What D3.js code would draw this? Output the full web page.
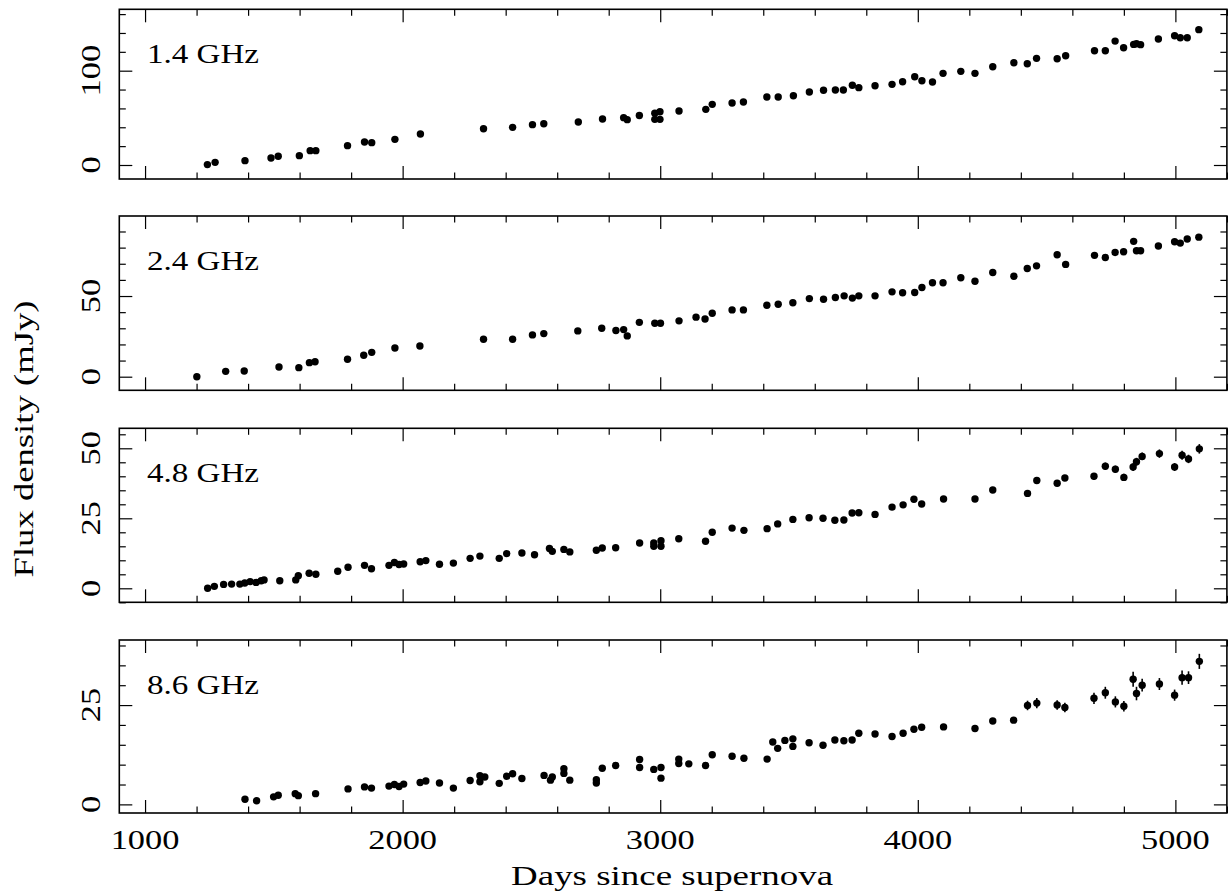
<!DOCTYPE html>
<html><head><meta charset="utf-8">
<script src="https://cdn.jsdelivr.net/npm/d3@7"></script>
<style>
body{margin:0;background:#fff}
svg{display:block}
text{font-family:"Liberation Serif","Times New Roman",serif;fill:#000}
</style>
</head><body>
<svg id="c" width="1230" height="893"></svg>
<script>
// ---------- data ----------
const xMajorTicks = [1000, 2000, 3000, 4000, 5000];
const panelLabels = ["1.4 GHz", "2.4 GHz", "4.8 GHz", "8.6 GHz"];
const xTitle = "Days since supernova";
const yTitle = "Flux density (mJy)";

const days14 = [1242,1272,1388,1489,1517,1599,1641,1663,1786,1852,1880,1970,2069,2314,2427,2504,2548,2682,2776,2858,2872,2919,2979,2979,2999,2999,3073,3177,3202,3279,3323,3414,3458,3517,3579,3634,3680,3711,3746,3771,3834,3900,3941,3988,4016,4057,4098,4167,4222,4291,4373,4425,4461,4541,4574,4686,4728,4766,4799,4838,4849,4865,4934,4997,5019,5046,5091];
const flux14 = [0.4,2.8,4.6,7.4,9.2,9.9,15.2,15.2,20.5,24.4,23.7,27.2,32.9,38.5,39.9,42.8,43.8,45.6,48.8,50.2,48.1,52.5,54.8,48.4,56.5,48.4,57.2,59.0,64.3,65.7,66.8,72.1,72.1,73.5,77.4,79.2,79.5,79.5,84.5,82.0,84.1,85.5,88.3,93.6,89.4,88.0,97.2,99.3,97.2,104.2,108.5,107.4,113.1,112.7,115.9,121.2,121.2,131.4,124.4,127.9,128.6,127.6,133.6,137.1,135.0,135.0,143.5];

const days24 = [1201,1313,1385,1520,1597,1638,1660,1786,1849,1880,1970,2067,2314,2427,2504,2548,2680,2773,2828,2858,2872,2919,2979,3001,3073,3139,3174,3202,3279,3323,3414,3458,3515,3579,3634,3680,3714,3746,3771,3834,3900,3941,3988,4016,4057,4098,4167,4222,4291,4373,4425,4461,4541,4574,4686,4728,4766,4799,4838,4849,4865,4934,4997,5019,5046,5091];
const flux24 = [0,3.3,3.5,6.0,5.6,8.7,9.3,10.8,13.3,15.1,17.8,19.0,23.2,23.2,25.9,26.7,28.4,30.0,28.6,29.2,25.3,33.7,33.1,33.1,34.6,36.9,35.8,39.3,41.4,41.4,44.3,44.9,45.8,48.4,48.0,49.1,50.1,48.7,50.1,50.1,52.6,52.0,52.2,55.3,58.2,58.2,61.3,59.2,64.6,62.3,67.1,68.7,75.6,69.6,75.2,73.9,77.0,77.4,83.9,78.1,78.1,81.0,83.6,82.8,85.3,86.5];

const days48 = [1243,1269,1305,1336,1368,1387,1408,1431,1451,1462,1523,1585,1595,1637,1663,1748,1788,1852,1879,1947,1968,1986,2004,2068,2090,2143,2197,2262,2300,2375,2404,2463,2512,2570,2581,2626,2649,2752,2775,2827,2920,2975,2975,3003,3003,3072,3176,3202,3279,3325,3415,3456,3515,3578,3632,3678,3713,3745,3771,3834,3900,3943,3985,4015,4100,4222,4291,4426,4462,4541,4571,4684,4728,4767,4800,4836,4849,4871,4938,4997,5026,5051,5093];
const flux48 = [0,0.7,1.4,1.5,1.5,1.9,2.4,2.1,2.7,3.0,2.7,3.0,4.5,5.4,5.0,6.1,7.5,8.2,7.0,8.2,9.2,8.5,8.7,9.5,9.9,8.6,9.0,10.7,11.5,10.7,12.4,12.6,12.0,14.2,13.2,13.9,13.0,13.6,14.4,14.5,16.2,16.2,15.0,17.0,15.0,17.7,16.8,20.0,21.5,20.7,21.3,23.0,24.6,25.2,25.0,24.3,24.4,26.9,27.0,26.4,29.0,29.8,31.8,30.1,31.9,31.9,35.1,33.9,38.5,37.5,39.4,40.0,43.6,42.5,39.6,43.3,45.2,47.1,48.1,43.3,47.5,46.2,49.8];
const err48 = [0.3,0.3,0.3,0.3,0.3,0.3,0.3,0.3,0.3,0.3,0.3,0.3,0.3,0.3,0.3,0.3,0.3,0.3,0.3,0.3,0.3,0.3,0.3,0.3,0.3,0.3,0.3,0.3,0.3,0.3,0.3,0.3,0.3,0.3,0.3,0.3,0.3,0.3,0.3,0.3,0.3,0.3,0.3,0.3,0.3,
  0.8,0.8,0.8,0.8,0.8,0.8,0.8,0.8,0.8,0.8,0.8,0.8,0.8,0.8,0.8,0.8,0.8,0.8,0.8,0.8,0.8,0.8,0.8,
  1.1,1.0,1.1,1.2,1.3,1.3,1.3,1.4,1.4,1.4,1.5,1.4,1.6,1.5,1.7];

const days86 = [1388,1433,1499,1517,1583,1595,1662,1788,1852,1879,1947,1968,1986,2004,2068,2090,2143,2197,2262,2300,2300,2319,2375,2404,2427,2463,2549,2574,2581,2626,2626,2649,2752,2752,2775,2827,2920,2920,2975,3003,3003,
  3072,3072,3111,3176,3202,3279,3325,3415,3437,3456,3484,3515,3515,3578,3632,3678,3713,3745,3771,3834,3900,3943,3985,4015,4100,4222,4291,4372,4426,4462,4541,4571,4684,4728,4767,4800,4836,4849,4871,4938,4997,5026,5051,5093];
const flux86 = [1.3,0.9,1.9,2.3,2.7,2.2,2.7,3.9,4.4,4.1,4.6,5.0,4.5,5.1,5.5,5.9,5.4,4.1,6.0,7.2,5.7,6.9,5.3,7.1,7.7,6.5,7.3,6.1,6.9,9.0,7.8,6.1,6.2,5.4,9.1,9.8,11.3,9.3,8.8,9.3,6.6,
  11.4,10.3,10.2,9.8,12.5,12.1,11.6,11.4,15.7,14.1,16.1,16.5,14.6,15.5,14.9,16.2,16.0,16.2,17.9,17.7,17.1,17.9,18.9,19.4,19.5,19.1,21.0,21.2,24.9,25.5,25.0,24.4,26.7,28.1,25.8,24.7,31.5,27.9,30.0,30.3,27.5,31.9,31.9,36.0];
const err86 = [0.3,0.3,0.3,0.3,0.3,0.3,0.3,0.3,0.3,0.3,0.3,0.3,0.3,0.3,0.3,0.3,0.3,0.3,0.3,0.3,0.3,0.3,0.3,0.3,0.3,0.3,0.3,0.3,0.3,0.3,0.3,0.3,0.3,0.3,0.3,0.3,0.3,0.3,0.3,0.3,0.3,
  0.6,0.6,0.6,0.6,0.6,0.6,0.6,0.6,0.6,0.6,0.6,0.6,0.6,0.6,0.6,0.6,0.6,0.6,0.6,0.6,0.6,0.6,0.6,0.6,0.6,0.6,0.6,0.6,
  1.2,1.3,1.2,1.2,1.4,1.5,1.4,1.3,1.9,1.7,1.6,1.5,1.4,1.8,1.6,1.9];

const yMajor14 = [0, 100], yMajor24 = [0, 50], yMajor48 = [0, 25, 50], yMajor86 = [0, 25];

// ---------- layout ----------
const svg = d3.select("#c");
const L = 119.3, R = 1226.9;
const x = d3.scaleLinear().domain([900, 5200]).range([L, R]);
const xMinor = d3.range(1000, 5201, 200).filter(v => v % 1000 !== 0);

const panels = [
  {label: panelLabels[0], days: days14, flux: flux14, err: null, top: 9.3, bottom: 179, dom: [-14.85, 165.1], major: yMajor14, step: 20},
  {label: panelLabels[1], days: days24, flux: flux24, err: null, top: 216, bottom: 390.3, dom: [-8.43, 99.6], major: yMajor24, step: 10},
  {label: panelLabels[2], days: days48, flux: flux48, err: err48, top: 428.3, bottom: 602.3, dom: [-5, 57.14], major: yMajor48, step: 5},
  {label: panelLabels[3], days: days86, flux: flux86, err: err86, top: 640, bottom: 813, dom: [-2.17, 41.38], major: yMajor86, step: 5}
];

const MAJ = 13, MIN = 6.5, FS = 28, CW = 17.2;

panels.forEach((p, i) => {
  const y = d3.scaleLinear().domain(p.dom).range([p.bottom, p.top]);
  const g = svg.append("g");
  const yMinor = d3.range(Math.ceil(p.dom[0] / p.step) * p.step, p.dom[1], p.step)
    .filter(v => !p.major.includes(v));

  const addAx = (axis, tr) => {
    const a = g.append("g").attr("transform", tr).call(axis);
    a.select(".domain").remove();
    a.selectAll("line").attr("stroke", "#000").attr("stroke-width", 1.2);
    a.selectAll("text").remove();
  };
  [[xMajorTicks, MAJ], [xMinor, MIN]].forEach(([vals, len]) => {
    addAx(d3.axisBottom(x).tickValues(vals).tickSizeInner(-len).tickSizeOuter(0).tickFormat(""), `translate(0,${p.bottom})`);
    addAx(d3.axisTop(x).tickValues(vals).tickSizeInner(-len).tickSizeOuter(0).tickFormat(""), `translate(0,${p.top})`);
  });
  [[p.major, MAJ], [yMinor, MIN]].forEach(([vals, len]) => {
    addAx(d3.axisLeft(y).tickValues(vals).tickSizeInner(-len).tickSizeOuter(0).tickFormat(""), `translate(${L},0)`);
    addAx(d3.axisRight(y).tickValues(vals).tickSizeInner(-len).tickSizeOuter(0).tickFormat(""), `translate(${R},0)`);
  });

  // frame
  g.append("rect").attr("x", L).attr("y", p.top).attr("width", R - L).attr("height", p.bottom - p.top)
    .attr("fill", "none").attr("stroke", "#000").attr("stroke-width", 1.6);

  // y tick labels (rotated)
  g.selectAll(".yl").data(p.major).join("text")
    .attr("transform", d => `translate(100,${y(d)}) rotate(-90)`)
    .attr("text-anchor", "middle").attr("font-size", FS)
    .attr("textLength", d => String(d).length * CW).attr("lengthAdjust", "spacingAndGlyphs")
    .text(d => d);

  // panel label
  g.append("text").attr("x", 147).attr("y", p.top + 53.5).attr("font-size", FS)
    .attr("textLength", 112).attr("lengthAdjust", "spacingAndGlyphs").text(p.label);

  const pts = p.days.map((d, k) => ({d, f: p.flux[k], e: p.err ? p.err[k] : 0}));
  // error bars
  g.selectAll(".eb").data(pts.filter(q => q.e > 0)).join("line")
    .attr("x1", q => x(q.d)).attr("x2", q => x(q.d))
    .attr("y1", q => y(q.f - q.e)).attr("y2", q => y(q.f + q.e))
    .attr("stroke", "#000").attr("stroke-width", 1.6);
  // points
  g.selectAll(".pt").data(pts).join("circle")
    .attr("cx", q => x(q.d)).attr("cy", q => y(q.f)).attr("r", 3.7).attr("fill", "#000");

  // x tick labels on bottom panel
  if (i === panels.length - 1) {
    g.selectAll(".xl").data(xMajorTicks).join("text")
      .attr("x", d => x(d)).attr("y", 849).attr("text-anchor", "middle").attr("font-size", FS)
      .attr("textLength", d => String(d).length * CW).attr("lengthAdjust", "spacingAndGlyphs")
      .text(d => d);
  }
});

svg.append("text").attr("x", (L + R) / 2 - 1).attr("y", 885).attr("text-anchor", "middle")
  .attr("font-size", FS).attr("textLength", 322).attr("lengthAdjust", "spacingAndGlyphs").text(xTitle);
svg.append("text").attr("transform", "translate(33,439) rotate(-90)").attr("text-anchor", "middle")
  .attr("font-size", FS).attr("textLength", 277).attr("lengthAdjust", "spacingAndGlyphs").text(yTitle);
</script>
</body></html>
